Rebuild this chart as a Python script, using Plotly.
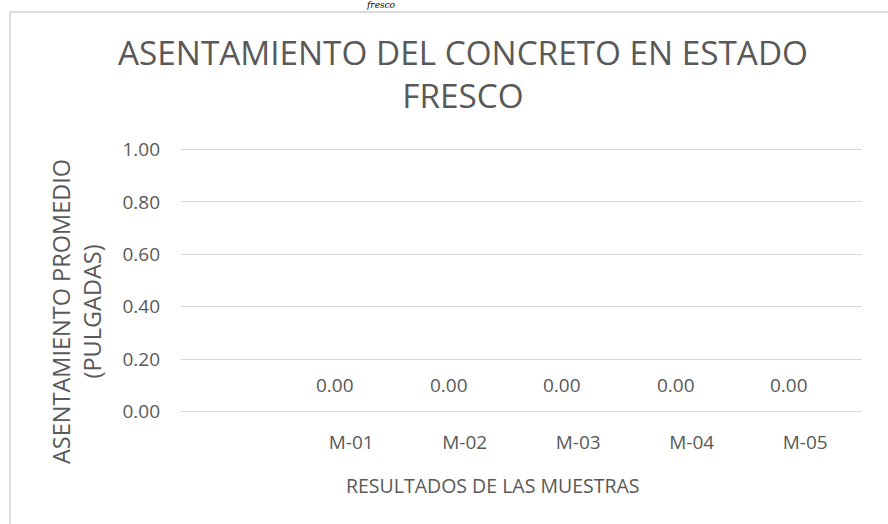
import plotly.graph_objects as go

# ---- data ----
categories = [" ", "M-01", "M-02", "M-03", "M-04", "M-05"]
serie_1 = [None, 0.00, 0.00, 0.00, 0.00, 0.00]
serie_2 = [None, 0.00, 0.00, 0.00, 0.00, 0.00]
y_ticks = [0.0, 0.2, 0.4, 0.6, 0.8, 1.0]

title_text = "ASENTAMIENTO DEL CONCRETO EN ESTADO<br>FRESCO"
x_title = "RESULTADOS DE LAS MUESTRAS"
y_title = "ASENTAMIENTO PROMEDIO<br>(PULGADAS)"
caption_text = "fresco"

TXT = "#595959"
GRID = "#d9d9d9"
FONT = "Open Sans, Liberation Sans, sans-serif"

W, H = 888, 524
L, R, T, B = 181, 26, 147, 110
pw, ph = W - L - R, H - T - B

def px_x(px):
    return (px - L) / pw

def px_y(py):
    return (H - B - py) / ph

fig = go.Figure()
fig.add_trace(go.Bar(x=categories, y=serie_1, name="Serie 1",
                     marker=dict(color="#4472c4", line=dict(width=0))))
fig.add_trace(go.Bar(x=categories, y=serie_2, name="Serie 2",
                     marker=dict(color="#ed7d31", line=dict(width=0))))

annotations = []
# data labels of the first series
for c, v in zip(categories, serie_1):
    if v is None:
        continue
    annotations.append(dict(x=c, y=v, xref="x", yref="y", text=f"{v:.2f}",
                            showarrow=False, xshift=-16, yshift=26,
                            font=dict(family=FONT, size=19, color=TXT)))
# axis titles
annotations.append(dict(x=px_x(76), y=px_y(312), xref="paper", yref="paper",
                        text=y_title, textangle=-90, showarrow=False,
                        xanchor="center", yanchor="middle",
                        font=dict(family=FONT, size=23.5, color=TXT)))
annotations.append(dict(x=px_x(493), y=px_y(485), xref="paper", yref="paper",
                        text=x_title, showarrow=False,
                        xanchor="center", yanchor="middle",
                        font=dict(family=FONT, size=19.5, color=TXT)))
# caption fragment above the chart frame
annotations.append(dict(x=px_x(381), y=px_y(5.5), xref="paper", yref="paper",
                        text="<i>" + caption_text + "</i>", showarrow=False,
                        xanchor="center", yanchor="middle",
                        font=dict(family="DejaVu Serif, serif", size=9, color="#000000")))

fig.update_layout(
    width=W, height=H,
    margin=dict(l=L, r=R, t=T, b=B, pad=0),
    paper_bgcolor="white", plot_bgcolor="white",
    barmode="group", bargap=0.4, bargroupgap=0,
    showlegend=False,
    title=dict(text=title_text, xref="container", yref="container",
               x=463 / W, y=1 - 65 / H, xanchor="center", yanchor="middle",
               font=dict(family=FONT, size=33.3, color=TXT)),
    font=dict(family=FONT, color=TXT),
    annotations=annotations,
    shapes=[dict(type="rect", xref="paper", yref="paper",
                 x0=px_x(10), x1=px_x(900), y0=px_y(540), y1=px_y(12),
                 line=dict(color="#d0d0d0", width=1.5), fillcolor="rgba(0,0,0,0)",
                 layer="below")],
)
fig.update_xaxes(type="category", categoryorder="array", categoryarray=categories,
                 showgrid=False, zeroline=False, showline=False, ticks="",
                 ticklabelstandoff=15,
                 tickfont=dict(family=FONT, size=19, color=TXT))
fig.update_yaxes(range=[-0.01, 1.01], tickvals=y_ticks, tickformat=".2f",
                 showgrid=True, gridcolor=GRID, gridwidth=1.3,
                 zeroline=False, showline=False, ticks="",
                 ticklabelstandoff=20,
                 tickfont=dict(family=FONT, size=19, color=TXT))

fig.write_html("out.html", config={"displayModeBar": False},
               post_script="document.body.style.margin='0';")
